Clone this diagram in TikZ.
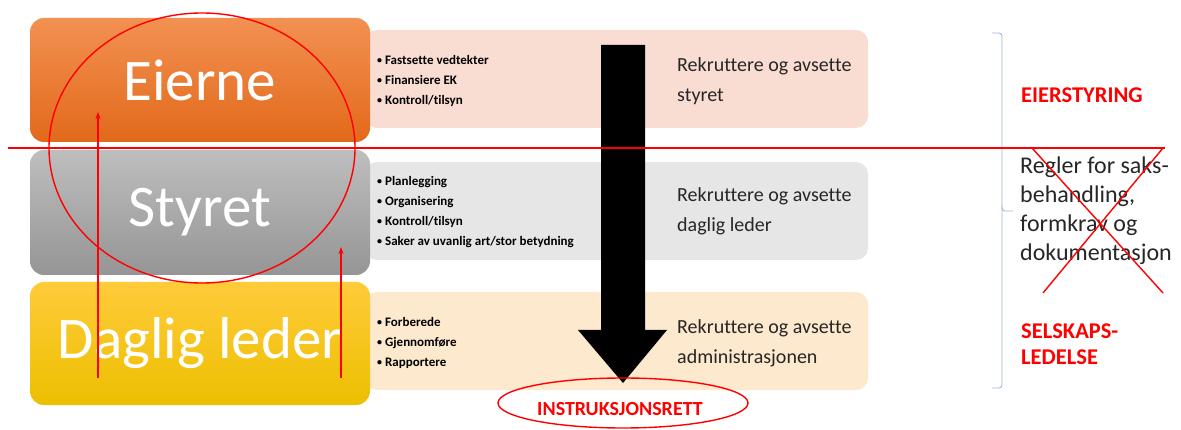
\documentclass[tikz,border=0pt]{standalone}
\usepackage{fontspec}
\setmainfont{Carlito}[Ligatures={NoCommon}]
\usetikzlibrary{arrows.meta,shapes.geometric}
\definecolor{orTop}{HTML}{F29152}
\definecolor{orBot}{HTML}{E2691A}
\definecolor{grTop}{HTML}{BEBEBE}
\definecolor{grBot}{HTML}{959595}
\definecolor{yeTop}{HTML}{FFCB3A}
\definecolor{yeBot}{HTML}{EDBF00}
\definecolor{pinkBg}{HTML}{F9DCD2}
\definecolor{greyBg}{HTML}{E6E6E6}
\definecolor{sandBg}{HTML}{FDE9CD}
\definecolor{braceBlue}{HTML}{9FB6DC}
\definecolor{mark}{HTML}{FF0000}
\newcommand{\dutydot}{\raisebox{1.2pt}{\fontsize{10}{10}\selectfont •}~}
\tikzset{
  rolebox/.style={rectangle, rounded corners=14pt, minimum width=340pt,
    text=white, font=\fontsize{59}{62}\selectfont, inner sep=0pt},
  taskbox/.style={rectangle, rounded corners=12pt, minimum width=503pt,
    minimum height=98pt, inner sep=0pt},
  bullets/.style={anchor=west, align=left, inner sep=0pt,
    font=\fontsize{13}{20}\selectfont\bfseries},
  recruit/.style={anchor=west, align=left, inner sep=0pt,
    font=\fontsize{20}{30}\selectfont, text=black!85},
  redlabel/.style={anchor=west, align=left, inner sep=0pt, text=mark,
    font=\fontsize{22.5}{26}\selectfont\bfseries},
  redpen/.style={draw=mark, line width=1.4pt},
  uparrow/.style={redpen, -{Stealth[length=7pt,width=5pt]}}
}
\begin{document}
\begin{tikzpicture}[x=1pt,y=-1pt]
\useasboundingbox (0,0) rectangle (1181,430);

% task panels behind the role boxes
\node[taskbox, fill=pinkBg] (tEier) at (616.5,79) {};
\node[taskbox, fill=greyBg] (tStyr) at (616.5,211) {};
\node[taskbox, fill=sandBg] (tDagl) at (616.5,341) {};

% role boxes
\node[rolebox, minimum height=124pt, top color=orTop, bottom color=orBot] (eierne) at (200,80) {Eierne};
\node[rolebox, minimum height=125pt, top color=grTop, bottom color=grBot] (styret) at (200,212.5) {Styret};
\node[rolebox, minimum height=123pt, top color=yeTop, bottom color=yeBot] (daglig) at (200,343.5) {Daglig leder};

% duties
\node[bullets] (bEier) at (377,81) {\dutydot Fastsette vedtekter\\\dutydot Finansiere EK\\\dutydot Kontroll/tilsyn};
\node[bullets] (bStyr) at (377,212) {\dutydot Planlegging\\\dutydot Organisering\\\dutydot Kontroll/tilsyn\\\dutydot Saker av uvanlig art/stor betydning};
\node[bullets] (bDagl) at (377,343) {\dutydot Forberede\\\dutydot Gjennomføre\\\dutydot Rapportere};

% recruitment texts
\node[recruit] (rEier) at (677,81) {Rekruttere og avsette\\styret};
\node[recruit] (rStyr) at (677,211) {Rekruttere og avsette\\daglig leder};
\node[recruit] (rDagl) at (677,343.5) {Rekruttere og avsette\\administrasjonen};

% downward authority arrow
\coordinate (aTL) at (601,45);
\coordinate (aTR) at (645,45);
\coordinate (aTip) at (623,383);
\fill[black] (aTL) -- (aTR) -- (645,330) -- (667,330) -- (aTip) -- (578,330) -- (601,330) -- cycle;

% right-hand brace
\coordinate (brTop) at (992,33);
\coordinate (brMid) at (1013,211);
\coordinate (brBot) at (992,388);
\draw[braceBlue, line width=0.9pt, rounded corners=3pt] (brTop) -- (1002,33) -- (1002,211) -- (brMid);
\draw[braceBlue, line width=0.9pt, rounded corners=3pt] (1002,205) -- (1002,388) -- (brBot);

% side labels
\node[redlabel] (eierstyring) at (1021,95) {EIERSTYRING};
\node[redlabel] (selskap) at (1021,344) {SELSKAPS-\\LEDELSE};
\node[recruit, font=\fontsize{24}{29}\selectfont] (regler) at (1020,211) {Regler for saks-\\behandling,\\formkrav og\\dokumentasjon};

% red annotations
\coordinate (lineL) at (8,148);
\coordinate (lineR) at (1165,148);
\draw[redpen] (lineL) -- (lineR);
\coordinate (xA) at (1032,148);
\coordinate (xB) at (1163,293);
\coordinate (xC) at (1163,148);
\coordinate (xD) at (1043,293);
\draw[redpen] (xA) -- (xB);
\draw[redpen] (xC) -- (xD);
\draw[redpen] (202,148) ellipse [x radius=153, y radius=135];

\coordinate (upL0) at (98,378);
\coordinate (upL1) at (98,112);
\coordinate (upR0) at (341,378);
\coordinate (upR1) at (341,247);
\draw[uparrow] (upL0) -- (upL1);
\draw[uparrow] (upR0) -- (upR1);

\node[ellipse, redpen, minimum width=250pt, minimum height=50pt, inner sep=0pt] (instr) at (623,403) {};
\node[text=mark, font=\fontsize{20}{22}\selectfont\bfseries, inner sep=0pt] (instrText) at (620,409) {INSTRUKSJONSRETT};
\end{tikzpicture}
\end{document}
